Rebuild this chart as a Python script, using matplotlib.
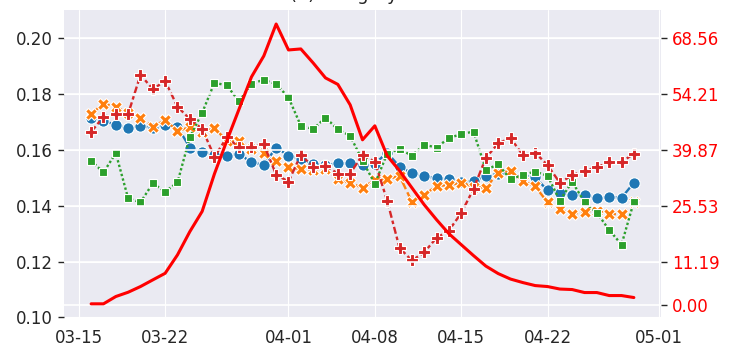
import numpy as np
import pandas as pd
import matplotlib
matplotlib.use("Agg")
import matplotlib.pyplot as plt
import matplotlib.dates as mdates
from matplotlib.ticker import FormatStrFormatter
import seaborn as sns

# ---------------- data ----------------
dates = pd.date_range("2020-03-16", "2020-04-29", freq="D")

series_circle = [0.1715, 0.1704, 0.1689, 0.1678, 0.1684, 0.1679, 0.1689, 0.1682, 0.1608, 0.1592,
                 0.1582, 0.1579, 0.1585, 0.1555, 0.1546, 0.1608, 0.1579, 0.1568, 0.1549, 0.1546,
                 0.1551, 0.1553, 0.1546, 0.1550, 0.1590, 0.1539, 0.1517, 0.1505, 0.1499, 0.1495,
                 0.1486, 0.1489, 0.1505, 0.1515, 0.1514, 0.1507, 0.1501, 0.1455, 0.1444, 0.1439,
                 0.1439, 0.1426, 0.1432, 0.1428, 0.1482]

series_x = [0.1728, 0.1765, 0.1754, 0.1732, 0.1715, 0.1683, 0.1706, 0.1668, 0.1680, 0.1662,
            0.1678, 0.1632, 0.1630, 0.1604, 0.1589, 0.1561, 0.1537, 0.1531, 0.1528, 0.1531,
            0.1495, 0.1480, 0.1465, 0.1491, 0.1494, 0.1507, 0.1414, 0.1438, 0.1471, 0.1473,
            0.1482, 0.1468, 0.1464, 0.1518, 0.1523, 0.1489, 0.1469, 0.1412, 0.1387, 0.1370,
            0.1379, 0.1382, 0.1370, 0.1369, 0.1412]

series_square = [0.1561, 0.1519, 0.1588, 0.1426, 0.1412, 0.1480, 0.1450, 0.1483, 0.1645, 0.1732,
                 0.1840, 0.1830, 0.1773, 0.1837, 0.1850, 0.1835, 0.1787, 0.1686, 0.1674, 0.1715,
                 0.1673, 0.1650, 0.1561, 0.1478, 0.1586, 0.1603, 0.1579, 0.1618, 0.1608, 0.1642,
                 0.1656, 0.1665, 0.1528, 0.1548, 0.1494, 0.1510, 0.1522, 0.1507, 0.1418, 0.1486,
                 0.1412, 0.1375, 0.1313, 0.1261, 0.1414]

series_plus = [0.1664, 0.1718, 0.1728, 0.1728, 0.1868, 0.1817, 0.1846, 0.1754, 0.1710, 0.1675,
               0.1575, 0.1644, 0.1609, 0.1609, 0.1619, 0.1511, 0.1486, 0.1582, 0.1539, 0.1543,
               0.1515, 0.1515, 0.1582, 0.1557, 0.1418, 0.1249, 0.1204, 0.1233, 0.1285, 0.1311,
               0.1373, 0.1460, 0.1571, 0.1623, 0.1642, 0.1581, 0.1590, 0.1545, 0.1482, 0.1509,
               0.1525, 0.1537, 0.1556, 0.1556, 0.1586]

red_series = [0.36, 0.36, 2.23, 3.33, 4.79, 6.50, 8.19, 12.91, 18.87, 24.07,
              33.73, 42.18, 50.37, 58.57, 63.95, 72.14, 65.48, 65.74, 62.15, 58.31,
              56.65, 51.40, 42.43, 46.02, 38.34, 34.50, 30.14, 25.79, 21.95, 18.36,
              15.54, 12.73, 10.04, 8.12, 6.71, 5.81, 5.04, 4.79, 4.15, 4.02,
              3.25, 3.25, 2.48, 2.48, 1.97]

left_ticks = [0.10, 0.12, 0.14, 0.16, 0.18, 0.20]
right_ticks = [0.00, 11.19, 25.53, 39.87, 54.21, 68.56]
title_text = "(a) Hungary"

# ---------------- style ----------------
sns.set_style("darkgrid")
plt.rcParams['font.family'] = ['DejaVu Sans']

palette = ["#1f77b4", "#ff7f0e", "#2ca02c", "#d62728"]
markers = ["o", "X", (4, 0, 45), "P"]
dashes = [None, (4, 1.5), (1, 1), (3, 1.25, 1.5, 1.25)]
all_series = [series_circle, series_x, series_square, series_plus]

fig = plt.figure(figsize=(7.29, 3.47), dpi=100)
ax = fig.add_axes([64/729, 29.5/347, 597/729, 307.5/347])

lw = 1.7
for vals, c, m, d in zip(all_series, palette, markers, dashes):
    line, = ax.plot(dates, vals, color=c, marker=m, markersize=8.2, lw=lw,
                    markeredgecolor="white", markeredgewidth=0.8)
    if d is not None:
        line.set_dashes(d)

ax.set_ylim(0.10, 0.21)
ax.set_yticks(left_ticks)
ax.yaxis.set_major_formatter(FormatStrFormatter('%.2f'))
ax.xaxis.set_major_locator(mdates.DayLocator(bymonthday=[1, 8, 15, 22]))
ax.xaxis.set_major_formatter(mdates.DateFormatter('%m-%d'))
ax.tick_params(axis='x', bottom=False, length=0, pad=8, labelsize=12, labelcolor='#262626')
ax.tick_params(axis='y', left=True, length=4, width=1, color='#262626', pad=4,
               labelsize=12, labelcolor='#262626')

ax2 = ax.twinx()
ax2.plot(dates, red_series, color='red', lw=2.2)
ax2.set_ylim(-3.15, 75.73)
ax2.set_yticks(right_ticks)
ax2.yaxis.set_major_formatter(FormatStrFormatter('%.2f'))
ax2.grid(True, axis='y', color='white', lw=1.2)
ax2.tick_params(axis='y', right=True, length=4, width=1, color='#262626', pad=4,
                labelsize=12, labelcolor='red')
for sp in ax2.spines.values():
    sp.set_visible(False)
for sp in ax.spines.values():
    sp.set_visible(False)

fig.text(344/729, 1.0 + 0.5/347, title_text, ha='center', va='baseline',
         fontsize=13, color='#262626')

fig.savefig("out.png", dpi=100)
